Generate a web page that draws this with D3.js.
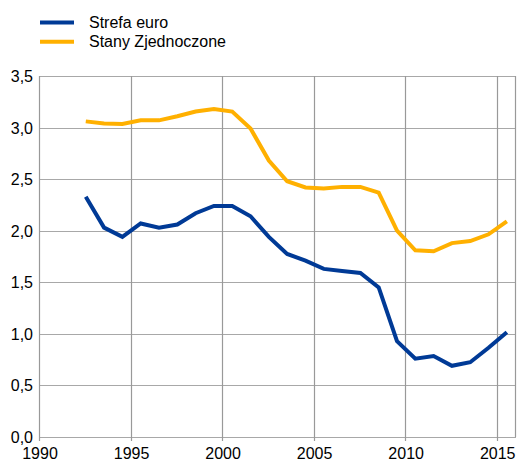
<!DOCTYPE html>
<html><head><meta charset="utf-8">
<script src="https://cdn.jsdelivr.net/npm/d3@7"></script>
<style>
body{margin:0;background:#fff;}
text{font-family:"Liberation Sans",Arial,sans-serif;}
</style></head>
<body><svg id="chart" width="517" height="462"></svg>
<script>
const years = [1992.5,1993.5,1994.5,1995.5,1996.5,1997.5,1998.5,1999.5,2000.5,2001.5,2002.5,2003.5,2004.5,2005.5,2006.5,2007.5,2008.5,2009.5,2010.5,2011.5,2012.5,2013.5,2014.5,2015.5];
const euroArea = [2.33,2.03,1.94,2.07,2.03,2.06,2.17,2.24,2.24,2.14,1.94,1.775,1.71,1.63,1.61,1.59,1.45,0.93,0.76,0.785,0.69,0.725,0.865,1.015];
const unitedStates = [3.06,3.04,3.035,3.07,3.07,3.11,3.155,3.18,3.155,2.99,2.68,2.48,2.42,2.41,2.425,2.425,2.37,2.0,1.81,1.80,1.88,1.90,1.965,2.09];
const seriesNames = ["Strefa euro","Stany Zjednoczone"];
const seriesColors = ["#003a96","#ffb000"];
const xTicks = [1990,1995,2000,2005,2010,2015];
const yTicks = [0,0.5,1,1.5,2,2.5,3,3.5];

const svg = d3.select("#chart");
const mLeft=40, mRight=516, mTop=76, mBottom=437;
const x = d3.scaleLinear().domain([1990,2016]).range([mLeft,mRight]);
const y = d3.scaleLinear().domain([0,3.5]).range([mBottom,mTop]);
const fmt = d => d3.format(".1f")(d).replace(".",",");

const g = svg.append("g");
// horizontal grid
g.selectAll(".hg").data(yTicks).join("line")
  .attr("x1",mLeft).attr("x2",mRight)
  .attr("y1",d=>Math.round(y(d))+0.5).attr("y2",d=>Math.round(y(d))+0.5)
  .attr("stroke","#a8a8a8").attr("stroke-width",1.2);
// vertical grid
g.selectAll(".vg").data(xTicks.concat([2016])).join("line")
  .attr("x1",d=>Math.round(x(d))-0.5).attr("x2",d=>Math.round(x(d))-0.5)
  .attr("y1",mTop).attr("y2",d=> (d===2016?mBottom:mBottom+4))
  .attr("stroke","#999").attr("stroke-width",1.2);

// y labels
g.selectAll(".yl").data(yTicks).join("text")
  .attr("x",33).attr("y",d=>y(d)+6)
  .attr("text-anchor","end").attr("font-size",16).attr("fill","#000")
  .text(fmt);
// x labels
g.selectAll(".xl").data(xTicks).join("text")
  .attr("x",d=>x(d)).attr("y",459)
  .attr("text-anchor","middle").attr("font-size",16).attr("fill","#000")
  .text(d=>d);

const line = d3.line().x((d,i)=>x(years[i])).y(d=>y(d));
[euroArea,unitedStates].forEach((s,k)=>{
  svg.append("path").datum(s).attr("d",line)
    .attr("fill","none").attr("stroke",seriesColors[k]).attr("stroke-width",4)
    .attr("stroke-linejoin","miter");
});

// legend
const lg = svg.append("g");
seriesNames.forEach((n,k)=>{
  const yy = 22.5 + k*19.3;
  lg.append("line").attr("x1",40).attr("x2",74).attr("y1",yy).attr("y2",yy)
    .attr("stroke",seriesColors[k]).attr("stroke-width",4);
  lg.append("text").attr("x",89).attr("y",yy+5.5).attr("font-size",16).attr("fill","#000").text(n);
});
</script></body></html>
